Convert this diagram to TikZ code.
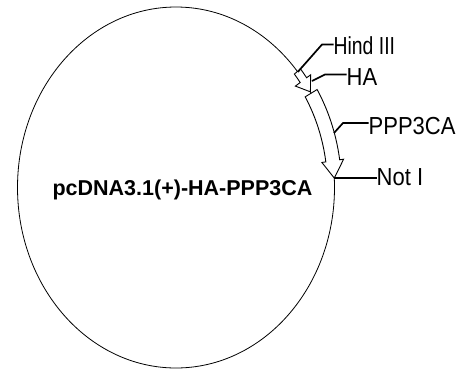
\documentclass[tikz,border=0pt]{standalone}
\usepackage{fontspec}
\setmainfont{Liberation Sans}
\newcommand{\stretchlabel}[2][1]{\scalebox{#1}[1.12]{#2}}
\begin{document}
\begin{tikzpicture}[x=1pt,y=-1pt,
  plasmidline/.style={line width=0.8pt},
  feature/.style={draw, fill=white, line width=0.9pt, line join=miter},
  leader/.style={line width=1.7pt},
  sitelabel/.style={anchor=base west, inner sep=0pt, font=\fontsize{22}{26}\selectfont},
  mainlabel/.style={anchor=base, inner sep=0pt, font=\fontsize{21.5}{25}\selectfont\bfseries}]
\useasboundingbox (0,0) rectangle (464,370);
\def\cx{176}\def\cy{187.5}\def\ra{158.5}\def\rb{180.5}
% backbone
\draw[plasmidline] (\cx,\cy) ellipse [x radius=\ra, y radius=\rb];
% PPP3CA feature arrow
\draw[feature]
  plot[domain=31.5:8.5, samples=40] ({\cx+(\ra+7)*cos(\x)}, {\cy-(\rb+7)*sin(\x)})
  -- ({\cx+(\ra+11)*cos(8.5)}, {\cy-(\rb+11)*sin(8.5)})
  -- ({\cx+\ra*cos(3)}, {\cy-\rb*sin(3)})
  -- ({\cx+(\ra-11)*cos(8.5)}, {\cy-(\rb-11)*sin(8.5)})
  -- plot[domain=8.5:31.5, samples=40] ({\cx+(\ra-7)*cos(\x)}, {\cy-(\rb-7)*sin(\x)})
  -- cycle;
% HA feature arrow
\draw[feature]
  plot[domain=40:36.5, samples=10] ({\cx+(\ra+4)*cos(\x)}, {\cy-(\rb+4)*sin(\x)})
  -- ({\cx+(\ra+9)*cos(36.5)}, {\cy-(\rb+9)*sin(36.5)})
  -- ({\cx+\ra*cos(32)}, {\cy-\rb*sin(32)})
  -- ({\cx+(\ra-10)*cos(36.5)}, {\cy-(\rb-10)*sin(36.5)})
  -- plot[domain=36.5:40, samples=10] ({\cx+(\ra-4)*cos(\x)}, {\cy-(\rb-4)*sin(\x)})
  -- cycle;
% sites on the map
\coordinate (hind) at ({\cx+\ra*cos(39.8)}, {\cy-\rb*sin(39.8)});
\coordinate (ha) at (312,81);
\coordinate (ppp) at (334,133);
\coordinate (noti) at ({\cx+\ra*cos(3)}, {\cy-\rb*sin(3)});
% bends
\coordinate (hindB) at (322,44.5);
\coordinate (haB) at (325,74.5);
\coordinate (pppB) at (343,123);
% labels
\node[mainlabel] (title) at (182.5,195) {pcDNA3.1(+)-HA-PPP3CA};
\node[sitelabel] (hindL) at (333.5,54) {\stretchlabel[0.88]{Hind III}};
\node[sitelabel] (haL) at (346.5,85) {\stretchlabel{HA}};
\node[sitelabel] (pppL) at (368.5,134) {\stretchlabel{PPP3CA}};
\node[sitelabel] (notL) at (376.5,185) {\stretchlabel{Not I}};
% leaders
\draw[leader] (hind) -- (hindB) -- (hindB -| hindL.west);
\draw[leader] (ha) -- (haB) -- (haB -| haL.west);
\draw[leader] (ppp) -- (pppB) -- (pppB -| pppL.west);
\draw[leader] (noti) -- (noti -| notL.west);
\end{tikzpicture}
\end{document}
